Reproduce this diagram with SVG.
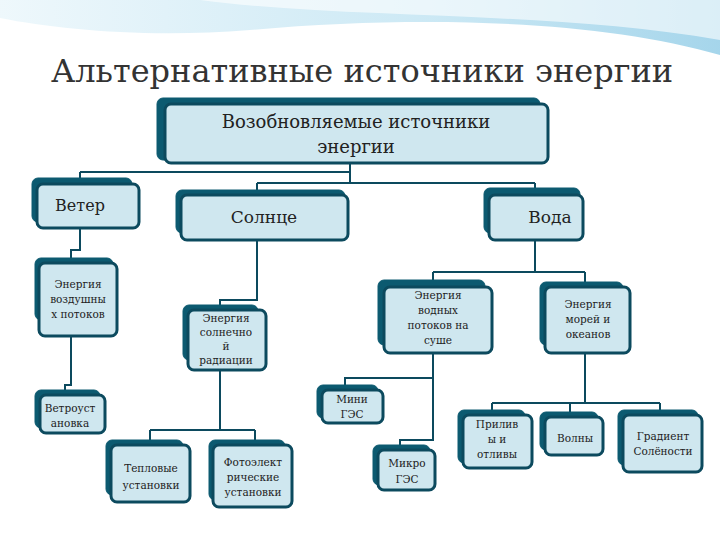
<svg xmlns="http://www.w3.org/2000/svg" width="720" height="540" viewBox="0 0 720 540">
<defs>
<linearGradient id="sky" x1="0" y1="0" x2="1" y2="0"><stop offset="0" stop-color="#eaf6fb"/><stop offset="0.6" stop-color="#bfe3f2"/><stop offset="1" stop-color="#8fcbe6"/></linearGradient>
<style>
.b{fill:#0c5a70;stroke:#0c5a70;stroke-width:1}
.f{fill:#cfe7ef;stroke:#0c4a5e;stroke-width:3}
text{font-family:"DejaVu Serif","Liberation Serif",serif;fill:#222;text-anchor:middle}
.s{font-size:10.5px}
.c{fill:none;stroke:#0c4a5e;stroke-width:2}
</style>
</defs>
<rect width="720" height="540" fill="#fff"/>
<path d="M0 0H720V55C600 20 420 15 250 30C150 38 60 30 0 18Z" fill="url(#sky)" opacity="0.8"/>
<path d="M200 0C350 20 550 10 720 40V0Z" fill="#ffffff" opacity="0.6"/>
<text x="362" y="82" font-size="32" style="fill:#333">Альтернативные источники энергии</text>
<g id="connectors" class="c">
<path d="M350 163V183M80 172H350M80 172V178M257 183H535M257 183V190M535 183V188"/>
<path d="M80 228V250H71V258"/>
<path d="M71 336V385H65V390"/>
<path d="M257 240V300H220V305"/>
<path d="M220 370V430M150 430H255M150 430V440M255 430V440"/>
<path d="M535 240V272M433 272H585M433 272V280M585 272V282"/>
<path d="M433 353V440H400V445M433 378H345V385"/>
<path d="M585 353V403M492 403H660M492 403V410M570 403V412M660 403V410"/>
</g>
<g id="top"><rect class="b" x="157" y="98" width="383" height="62" rx="6"/><rect class="f" x="165" y="104" width="383" height="59" rx="6"/><text x="356" y="128" font-size="18">Возобновляемые источники</text><text x="356" y="153" font-size="18">энергии</text></g>
<g id="veter"><rect class="b" x="32" y="178" width="100" height="44" rx="6"/><rect class="f" x="37" y="184" width="102" height="44" rx="6"/><text x="80" y="211" font-size="16">Ветер</text></g>
<g id="solnce"><rect class="b" x="176" y="190" width="169" height="43" rx="6"/><rect class="f" x="181" y="195" width="167" height="45" rx="6"/><text x="264" y="223" font-size="17">Солнце</text></g>
<g id="voda"><rect class="b" x="484" y="188" width="96" height="45" rx="6"/><rect class="f" x="489" y="195" width="94" height="45" rx="6"/><text x="550" y="223" font-size="17">Вода</text></g>
<g id="vozd" class="s"><rect class="b" x="35" y="258" width="78" height="62" rx="6"/><rect class="f" x="39" y="263" width="78" height="73" rx="6"/><text x="78" y="288">Энергия</text><text x="78" y="303">воздушны</text><text x="78" y="318">х потоков</text></g>
<g id="sol" class="s"><rect class="b" x="183" y="305" width="75" height="55" rx="6"/><rect class="f" x="188" y="310" width="78" height="60" rx="6"/><text x="226" y="322">Энергия</text><text x="226" y="336">солнечно</text><text x="226" y="350">й</text><text x="226" y="364">радиации</text></g>
<g id="vodn" class="s"><rect class="b" x="378" y="280" width="107" height="65" rx="6"/><rect class="f" x="384" y="287" width="108" height="66" rx="6"/><text x="438" y="299">Энергия</text><text x="438" y="314">водных</text><text x="438" y="329">потоков на</text><text x="438" y="344">суше</text></g>
<g id="morey" class="s"><rect class="b" x="540" y="282" width="83" height="63" rx="6"/><rect class="f" x="545" y="287" width="85" height="66" rx="6"/><text x="588" y="308">Энергия</text><text x="588" y="323">морей и</text><text x="588" y="338">океанов</text></g>
<g id="vetrou" class="s"><rect class="b" x="35" y="390" width="65" height="38" rx="6"/><rect class="f" x="40" y="395" width="65" height="38" rx="6"/><text x="70" y="412">Ветроуст</text><text x="70" y="427">ановка</text></g>
<g id="mini" class="s"><rect class="b" x="317" y="385" width="61" height="33" rx="6"/><rect class="f" x="322" y="390" width="61" height="33" rx="6"/><text x="352" y="403">Мини</text><text x="352" y="418">ГЭС</text></g>
<g id="mikro" class="s"><rect class="b" x="373" y="445" width="57" height="40" rx="6"/><rect class="f" x="378" y="450" width="57" height="40" rx="6"/><text x="407" y="467">Микро</text><text x="407" y="483">ГЭС</text></g>
<g id="teplo" class="s"><rect class="b" x="106" y="440" width="77" height="55" rx="6"/><rect class="f" x="111" y="445" width="79" height="57" rx="6"/><text x="151" y="472">Тепловые</text><text x="151" y="489">установки</text></g>
<g id="foto" class="s"><rect class="b" x="209" y="440" width="76" height="60" rx="6"/><rect class="f" x="213" y="445" width="79" height="62" rx="6"/><text x="253" y="466">Фотоэлект</text><text x="253" y="481">рические</text><text x="253" y="496">установки</text></g>
<g id="priliv" class="s"><rect class="b" x="458" y="410" width="67" height="53" rx="6"/><rect class="f" x="463" y="415" width="69" height="53" rx="6"/><text x="497" y="428">Прилив</text><text x="497" y="443">ы и</text><text x="497" y="458">отливы</text></g>
<g id="volny" class="s"><rect class="b" x="540" y="412" width="58" height="38" rx="6"/><rect class="f" x="545" y="417" width="58" height="38" rx="6"/><text x="575" y="442">Волны</text></g>
<g id="grad" class="s"><rect class="b" x="618" y="410" width="80" height="55" rx="6"/><rect class="f" x="623" y="415" width="79" height="57" rx="6"/><text x="663" y="440">Градиент</text><text x="663" y="455">Солёности</text></g>
</svg>
